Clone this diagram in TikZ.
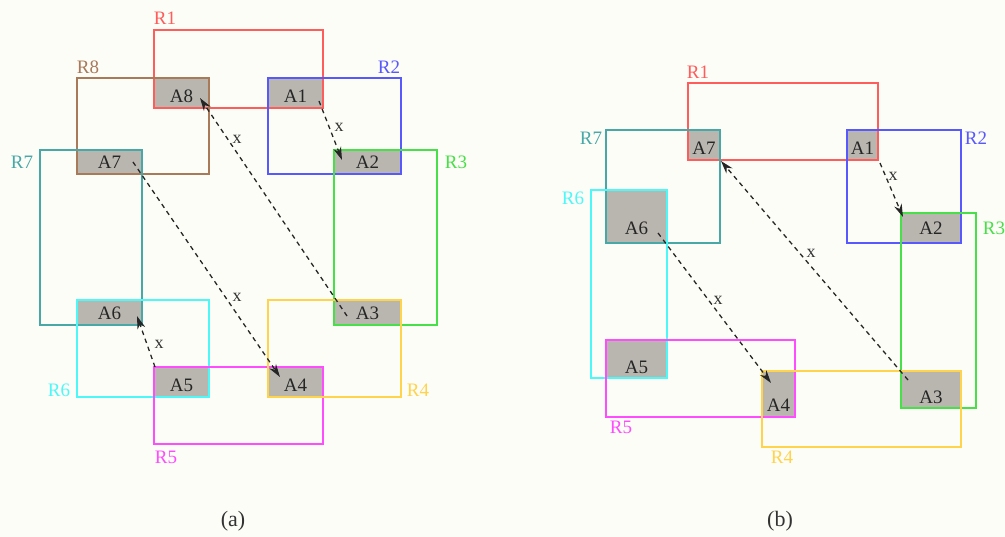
\documentclass[tikz,border=0pt]{standalone}
\usepackage{fontspec}
\setmainfont{Liberation Serif}
\usetikzlibrary{arrows.meta}

\definecolor{pagebg}{HTML}{FDFDF7}
\definecolor{areagray}{HTML}{B9B6AF}
\definecolor{cR1}{HTML}{FF5C5C}
\definecolor{cR2}{HTML}{5858FF}
\definecolor{cR3}{HTML}{48E048}
\definecolor{cR4}{HTML}{FFD34C}
\definecolor{cR5}{HTML}{FF4CFF}
\definecolor{cR6}{HTML}{4CF8F8}
\definecolor{cR7}{HTML}{48A8A8}
\definecolor{cR8}{HTML}{A87A5A}

\begin{document}
\begin{tikzpicture}[x=1pt,y=-1pt,
  abox/.style={fill=areagray, inner sep=0pt, outer sep=0pt},
  atext/.style={font=\fontsize{19}{22}\selectfont, text=black!85, inner sep=0pt},
  rbox/.style={line width=1.8pt},
  rlab/.style={font=\fontsize{19}{22}\selectfont, inner sep=0pt},
  xlab/.style={font=\fontsize{18}{20}\selectfont, text=black!80, inner sep=0pt},
  caption/.style={font=\fontsize{22}{26}\selectfont, text=black!80, inner sep=0pt},
  conn/.style={line width=1.3pt, black!85, dash pattern=on 4.5pt off 4pt,
               -{Stealth[length=13pt,width=8pt]}},
]
\fill[pagebg] (0,0) rectangle (1005,537);
\useasboundingbox (0,0) rectangle (1005,537);

% ---------------- panel (a): shaded overlaps ----------------
\node[abox, minimum width=55pt, minimum height=30pt] (a8) at (181.5,93)    {};
\node[abox, minimum width=55pt, minimum height=30pt] (a1) at (295.5,93)    {};
\node[abox, minimum width=67pt, minimum height=24pt] (a2) at (367.5,162)   {};
\node[abox, minimum width=65pt, minimum height=24pt] (a7) at (109.5,162)   {};
\node[abox, minimum width=65pt, minimum height=25pt] (a6) at (109.5,312.5) {};
\node[abox, minimum width=55pt, minimum height=30pt] (a5) at (181.5,382)   {};
\node[abox, minimum width=55pt, minimum height=30pt] (a4) at (295.5,382)   {};
\node[abox, minimum width=67pt, minimum height=25pt] (a3) at (367.5,312.5) {};

% panel (a): regions
\draw[rbox, cR1] (154,30)  rectangle (323,108);
\draw[rbox, cR8] (77,78)   rectangle (209,174);
\draw[rbox, cR2] (268,78)  rectangle (401,174);
\draw[rbox, cR3] (334,150) rectangle (437,325);
\draw[rbox, cR7] (40,150)  rectangle (142,325);
\draw[rbox, cR6] (77,300)  rectangle (209,397);
\draw[rbox, cR5] (154,367) rectangle (323,444);
\draw[rbox, cR4] (268,300) rectangle (401,397);

% panel (a): region names
\node[rlab, text=cR1] (a-r1) at (165,18)  {R1};
\node[rlab, text=cR8] (a-r8) at (88,67)   {R8};
\node[rlab, text=cR2] (a-r2) at (389,67)  {R2};
\node[rlab, text=cR7] (a-r7) at (22,162)  {R7};
\node[rlab, text=cR3] (a-r3) at (456,162) {R3};
\node[rlab, text=cR6] (a-r6) at (59,390)  {R6};
\node[rlab, text=cR4] (a-r4) at (418,390) {R4};
\node[rlab, text=cR5] (a-r5) at (166,457) {R5};

% panel (a): overlap names
\node[atext] (a8t) at ([yshift=12pt]a8.south) {A8};
\node[atext] (a1t) at ([yshift=12pt]a1.south) {A1};
\node[atext] (a2t) at ([yshift=12pt]a2.south) {A2};
\node[atext] (a7t) at ([yshift=12pt]a7.south) {A7};
\node[atext] (a6t) at ([yshift=12pt]a6.south) {A6};
\node[atext] (a5t) at ([yshift=12pt]a5.south) {A5};
\node[atext] (a4t) at ([yshift=12pt]a4.south) {A4};
\node[atext] (a3t) at ([yshift=12pt]a3.south) {A3};

% panel (a): moves
\draw[conn] ([xshift=-4pt,yshift=7pt]a1.south east)
         -- ([xshift=8pt,yshift=-10pt]a2.north west);
\draw[conn] ([xshift=13pt,yshift=-16pt]a3.north west)
         -- ([xshift=-9pt,yshift=10pt]a8.south east);
\draw[conn] ([xshift=-9pt]a7.east)
         -- ([xshift=12pt,yshift=-10pt]a4.north west);
\draw[conn] ([xshift=1pt]a5.north west)
         -- ([xshift=-5pt,yshift=9pt]a6.south east);
\node[xlab] (a-x1) at (339,127) {x};
\node[xlab] (a-x2) at (237,139) {x};
\node[xlab] (a-x3) at (237,297) {x};
\node[xlab] (a-x4) at (159,344) {x};

\node[caption] (cap-a) at (233,521) {(a)};

% ---------------- panel (b): shaded overlaps ----------------
\node[abox, minimum width=32pt, minimum height=30pt] (b7) at (704,145)     {};
\node[abox, minimum width=31pt, minimum height=30pt] (b1) at (862.5,145)   {};
\node[abox, minimum width=61pt, minimum height=53pt] (b6) at (636.5,216.5) {};
\node[abox, minimum width=60pt, minimum height=30pt] (b2) at (931,228)     {};
\node[abox, minimum width=61pt, minimum height=38pt] (b5) at (636.5,359)   {};
\node[abox, minimum width=33pt, minimum height=46pt] (b4) at (778.5,394)   {};
\node[abox, minimum width=60pt, minimum height=37pt] (b3) at (931,389.5)   {};

% panel (b): regions
\draw[rbox, cR1] (688,83)  rectangle (878,160);
\draw[rbox, cR7] (606,130) rectangle (720,243);
\draw[rbox, cR2] (847,130) rectangle (961,243);
\draw[rbox, cR6] (591,190) rectangle (667,378);
\draw[rbox, cR3] (901,213) rectangle (976,408);
\draw[rbox, cR5] (606,340) rectangle (795,417);
\draw[rbox, cR4] (762,371) rectangle (961,447);

% panel (b): region names
\node[rlab, text=cR1] (b-r1) at (698,72)  {R1};
\node[rlab, text=cR7] (b-r7) at (591,138) {R7};
\node[rlab, text=cR2] (b-r2) at (976,138) {R2};
\node[rlab, text=cR6] (b-r6) at (573,198) {R6};
\node[rlab, text=cR3] (b-r3) at (994,228) {R3};
\node[rlab, text=cR5] (b-r5) at (621,427) {R5};
\node[rlab, text=cR4] (b-r4) at (782,457) {R4};

% panel (b): overlap names
\node[atext] (b7t) at ([yshift=12pt]b7.south) {A7};
\node[atext] (b1t) at ([yshift=12pt]b1.south) {A1};
\node[atext] (b6t) at ([yshift=15pt]b6.south) {A6};
\node[atext] (b2t) at ([yshift=15pt]b2.south) {A2};
\node[atext] (b5t) at ([yshift=11pt]b5.south) {A5};
\node[atext] (b4t) at ([yshift=12pt]b4.south) {A4};
\node[atext] (b3t) at ([yshift=11pt]b3.south) {A3};

% panel (b): moves
\draw[conn] ([xshift=2pt,yshift=-3pt]b1.south east)
         -- ([xshift=2pt,yshift=-4pt]b2.north west);
\draw[conn] ([xshift=7pt,yshift=-9pt]b3.north west)
         -- ([xshift=1pt,yshift=-1pt]b7.south east);
\draw[conn] ([xshift=-9pt,yshift=10pt]b6.south east)
         -- ([xshift=9pt,yshift=-12pt]b4.north west);
\node[xlab] (b-x1) at (893,176) {x};
\node[xlab] (b-x2) at (811,253) {x};
\node[xlab] (b-x3) at (718,300) {x};

\node[caption] (cap-b) at (780,521) {(b)};
\end{tikzpicture}
\end{document}
